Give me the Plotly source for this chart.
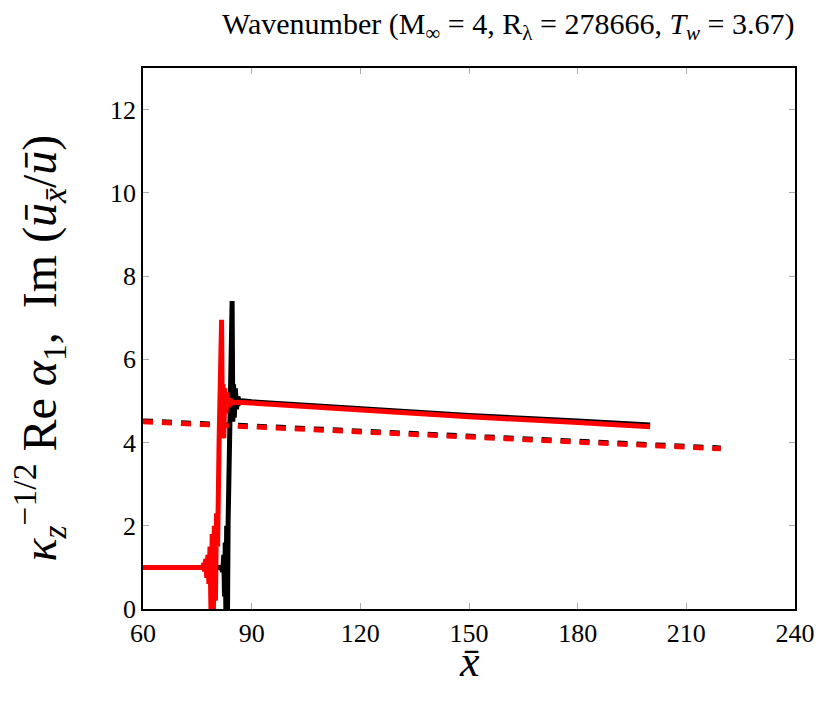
import plotly.graph_objects as go

# black solid: Re alpha_1 (first case)
x_black = [60, 75, 81.5, 82.0, 82.3, 82.5, 82.7, 82.9, 83.1, 83.3, 83.5, 83.8, 84.3,
           84.6, 84.8, 85.0, 85.2, 85.5, 85.8, 86.2, 86.7, 87.5, 90, 120, 150, 180, 200]
y_black = [1.0, 1.0, 1.0, 0.9, 1.3, 0.3, 1.6, -0.3, 2.0, -0.5, 2.1, 3.5, 5.0,
           7.4, 4.5, 5.4, 4.6, 5.3, 4.8, 5.1, 4.95, 5.0, 4.98, 4.8, 4.65, 4.52, 4.42]

# red solid: Re alpha_1 (second case)
x_red = [60, 76.5, 76.8, 77.0, 77.3, 77.6, 77.9, 78.2, 78.5, 78.8, 79.1, 79.4, 79.7,
         80.0, 80.3, 80.6, 81.0, 81.4, 81.7, 81.9, 82.1, 82.3, 82.6, 82.9, 83.2,
         83.6, 84.0, 84.5, 86, 90, 120, 150, 180, 200]
y_red = [1.0, 1.0, 1.1, 0.9, 1.2, 0.75, 1.3, 0.6, 1.5, -0.3, 1.8, -0.4, 2.0,
         0.2, 2.3, 1.5, 4.0, 6.8, 6.95, 4.6, 5.4, 4.1, 5.3, 4.7, 5.2,
         4.85, 5.05, 4.95, 4.97, 4.95, 4.78, 4.62, 4.48, 4.38]

# dashed: Im(u_x/u)
x_dash = [60, 90, 120, 150, 180, 210, 219.5]
y_dash_black = [4.52, 4.40, 4.28, 4.16, 4.03, 3.91, 3.87]
y_dash_red = [4.50, 4.38, 4.26, 4.14, 4.01, 3.89, 3.85]

x_ticks = [60, 90, 120, 150, 180, 210, 240]
y_ticks = [0, 2, 4, 6, 8, 10, 12]

serif = "Liberation Serif"

fig = go.Figure()
fig.add_trace(go.Scatter(x=x_black, y=y_black, mode="lines",
                         line=dict(color="black", width=5)))
fig.add_trace(go.Scatter(x=x_dash, y=y_dash_black, mode="lines",
                         line=dict(color="black", width=5, dash="10px,9px")))
fig.add_trace(go.Scatter(x=x_red, y=y_red, mode="lines",
                         line=dict(color="red", width=5)))
fig.add_trace(go.Scatter(x=x_dash, y=y_dash_red, mode="lines",
                         line=dict(color="red", width=5, dash="10px,9px")))

axis_style = dict(showgrid=False, zeroline=False, showline=True, linecolor="black",
                  linewidth=1.5, mirror="allticks", ticks="inside", ticklen=6,
                  tickcolor="#aaaaaa", tickwidth=1,
                  tickfont=dict(family=serif, size=26, color="black"))

fig.update_xaxes(range=[60, 240], tickvals=x_ticks, **axis_style)
fig.update_yaxes(range=[0, 13], tickvals=y_ticks, **axis_style)

fig.update_layout(
    width=821, height=707,
    plot_bgcolor="white", paper_bgcolor="white",
    showlegend=False,
    margin=dict(l=135, r=34, t=60, b=106),
    annotations=[
        dict(text="Wavenumber (M<sub>∞</sub> = 4, R<sub>λ</sub> = 278666, <i>T<sub>w</sub></i> = 3.67)",
             x=0.56, y=1.0, xref="paper", yref="paper", yanchor="middle", yshift=42,
             showarrow=False, font=dict(family=serif, size=30, color="black")),
        dict(text="<i>x̄</i>", x=0.5, y=0, xref="paper", yref="paper", yanchor="middle",
             yshift=-52, showarrow=False, font=dict(family=serif, size=44, color="black")),
        dict(text="<i>κ<sub>z</sub></i><sup>−1/2</sup> Re <i>α</i><sub>1</sub>,  Im (<i>ū<sub>x̄</sub></i>/<i>ū</i>)",
             x=0, y=0.5, xref="paper", yref="paper", xanchor="center", xshift=-104,
             yshift=-10, textangle=-90,
             showarrow=False, font=dict(family=serif, size=48, color="black")),
    ],
)

fig.write_html("out.html")
